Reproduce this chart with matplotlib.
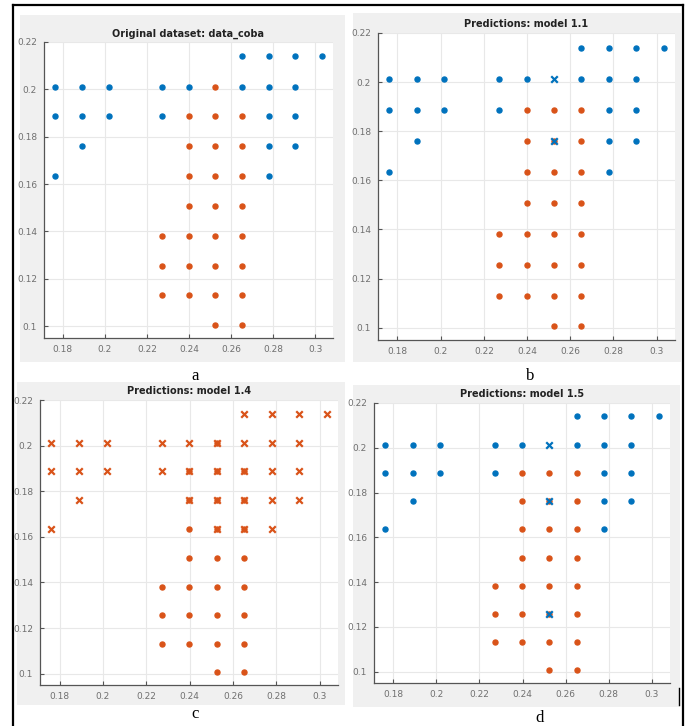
import numpy as np
import matplotlib
matplotlib.use('Agg')
import matplotlib.pyplot as plt
from matplotlib.patches import Rectangle
from matplotlib.lines import Line2D

# grid of feature values
grid_x = [0.1763, 0.1890, 0.2017, 0.2271, 0.2398, 0.2525, 0.2652, 0.2779, 0.2906, 0.3033]
grid_y = [0.1006, 0.1131, 0.1256, 0.1381, 0.1506, 0.1636, 0.1762, 0.1887, 0.2012, 0.2140]

# (col, row) of class 1 (blue) and class 2 (orange) points
blue_pts = [(6, 9), (7, 9), (8, 9), (9, 9),
            (0, 8), (1, 8), (2, 8), (3, 8), (4, 8), (6, 8), (7, 8), (8, 8),
            (0, 7), (1, 7), (2, 7), (3, 7), (7, 7), (8, 7),
            (1, 6), (7, 6), (8, 6),
            (0, 5), (7, 5)]
orange_pts = [(5, 8),
              (4, 7), (5, 7), (6, 7),
              (4, 6), (5, 6), (6, 6),
              (4, 5), (5, 5), (6, 5),
              (4, 4), (5, 4), (6, 4),
              (3, 3), (4, 3), (5, 3), (6, 3),
              (3, 2), (4, 2), (5, 2), (6, 2),
              (3, 1), (4, 1), (5, 1), (6, 1),
              (5, 0), (6, 0)]

# wrong predictions per panel (shown as x, colour = predicted class)
wrong_11 = {'blue': [(5, 8), (5, 6)], 'orange': []}
wrong_14 = {'blue': [],
            'orange': blue_pts + [(5, 8), (4, 7), (5, 7), (6, 7), (4, 6), (5, 6), (6, 6), (5, 5), (6, 5)]}
wrong_15 = {'blue': [(5, 8), (5, 6), (5, 2)], 'orange': []}

titles = ['Original dataset: data_coba', 'Predictions: model 1.1',
          'Predictions: model 1.4', 'Predictions: model 1.5']
letters = ['a', 'b', 'c', 'd']

BLUE = '#0072BD'
ORANGE = '#D95319'

W, H = 689, 726
fig = plt.figure(figsize=(W / 100, H / 100), dpi=100)
fig.patch.set_facecolor('white')


def fx(px):
    return px / W


def fy(py):
    return 1 - py / H


# grey panel backgrounds (px: x0, y0, x1, y1)
panels = [(20, 15, 345, 362), (353, 13, 681, 362), (17, 382, 345, 705), (353, 385, 680, 707)]
axes_px = [(44, 42, 333, 338), (378, 33, 675, 340), (40, 400, 338, 685), (374, 403, 670, 683)]
letter_pos = [(195, 376), (530, 376), (195, 714), (540, 718)]

for x0, y0, x1, y1 in panels:
    fig.patches.append(Rectangle((fx(x0), fy(y1)), fx(x1 - x0), (y1 - y0) / H,
                                 transform=fig.transFigure, facecolor='#f0f0f0',
                                 edgecolor='none', zorder=-10))

# outer frame
for xs, ys in [([13, 13], [5, 726]), ([13, 683], [5, 5]), ([683, 683], [5, 726]), ([679, 679], [688, 705])]:
    fig.lines.append(Line2D([fx(v) for v in xs], [fy(v) for v in ys], transform=fig.transFigure,
                            color='black', lw=1.6 if xs[0] != 679 else 1.0))


def pts_xy(pts):
    return [grid_x[c] for c, r in pts], [grid_y[r] for c, r in pts]


for i in range(4):
    x0, y0, x1, y1 = axes_px[i]
    ax = fig.add_axes([fx(x0), fy(y1), fx(x1 - x0), (y1 - y0) / H])
    ax.set_facecolor('white')

    if i == 0:
        bx, by = pts_xy(blue_pts)
        ox, oy = pts_xy(orange_pts)
        ax.scatter(bx, by, s=13, color=BLUE, zorder=3)
        ax.scatter(ox, oy, s=13, color=ORANGE, zorder=3)
    else:
        wrong = [wrong_11, wrong_14, wrong_15][i - 1]
        if i == 2:
            dots_b = []
            dots_o = [p for p in orange_pts if p not in blue_pts]
        else:
            dots_b = [p for p in blue_pts]
            dots_o = [p for p in orange_pts if p != (5, 8)]
        if dots_b:
            bx, by = pts_xy(dots_b)
            ax.scatter(bx, by, s=13, color=BLUE, zorder=3)
        ox, oy = pts_xy(dots_o)
        ax.scatter(ox, oy, s=13, color=ORANGE, zorder=3)
        for col, key in [(BLUE, 'blue'), (ORANGE, 'orange')]:
            if wrong[key]:
                wx, wy = pts_xy(wrong[key])
                ax.scatter(wx, wy, s=22, marker='x', color=col, linewidths=1.6, zorder=4)

    ax.set_xlim(0.171, 0.3085)
    ax.set_ylim(0.095, 0.22)
    ax.set_xticks([0.18, 0.2, 0.22, 0.24, 0.26, 0.28, 0.3])
    ax.set_xticklabels(['0.18', '0.2', '0.22', '0.24', '0.26', '0.28', '0.3'])
    ax.set_yticks([0.1, 0.12, 0.14, 0.16, 0.18, 0.2, 0.22])
    ax.set_yticklabels(['0.1', '0.12', '0.14', '0.16', '0.18', '0.2', '0.22'])
    ax.grid(True, color='#e8e8e8', lw=0.8, zorder=0)
    ax.set_axisbelow(True)
    ax.tick_params(direction='in', length=3, width=0.8, labelsize=6.5,
                   colors='#555555', labelcolor='#707070', pad=5)
    for s in ['top', 'right']:
        ax.spines[s].set_visible(False)
    for s in ['left', 'bottom']:
        ax.spines[s].set_color('#555555')
        ax.spines[s].set_linewidth(0.9)
    ax.set_title(titles[i], fontsize=7, fontweight='bold', color='#222222', pad=4)

    lx, ly = letter_pos[i]
    fig.text(fx(lx), fy(ly), letters[i], ha='center', va='center',
             fontsize=12, family='Liberation Serif')

fig.savefig('out.png', dpi=100)
